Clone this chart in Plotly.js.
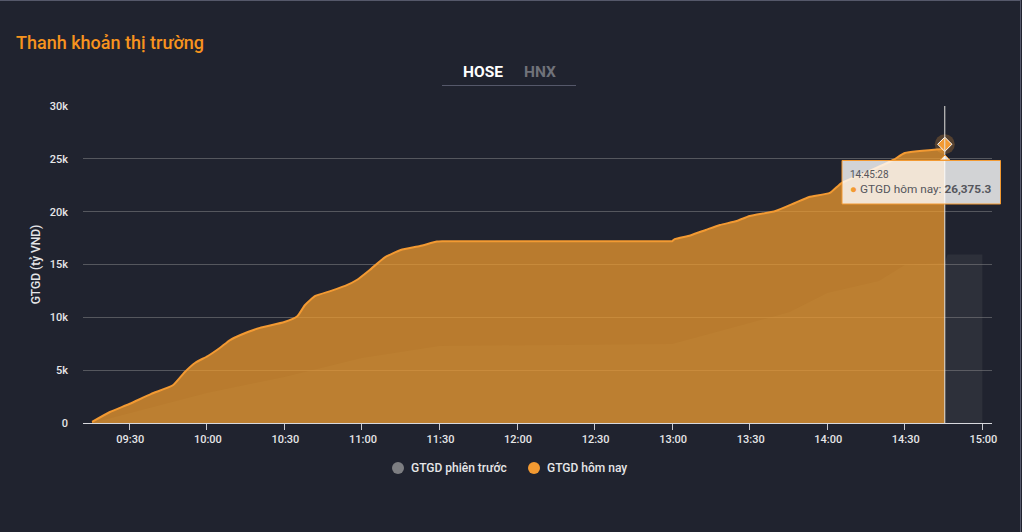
<!DOCTYPE html>
<html><head><meta charset="utf-8">
<script src="https://cdn.plot.ly/plotly-3.0.1.min.js"></script>
<style>
html,body{margin:0;padding:0;background:#20232f;overflow:hidden}
#frame{position:absolute;left:0;top:0;width:1021px;height:532px;border-top:1px solid #55586a;border-right:1px solid #55586a;box-sizing:border-box}
#chart{position:absolute;left:0;top:0;width:1022px;height:532px}
</style></head><body>
<div id="chart"></div><div id="frame"></div>
<script>
const DAY = '2024-01-01 ';
const todayTimes = ['09:15:36','09:22:30','09:30:00','09:38:30','09:47:00','09:51:30','09:55:24','10:00:24','10:05:00','10:09:00','10:13:00','10:20:30','10:30:00','10:35:00','10:38:00','10:42:00','10:48:00','10:53:30','10:58:00','11:03:00','11:09:00','11:15:00','11:22:30','11:29:00','11:31:00','11:33:00','12:58:00','12:59:30','13:00:00','13:01:00','13:07:00','13:13:00','13:18:30','13:25:00','13:30:00','13:40:00','13:47:30','13:53:00','14:01:00','14:05:30','14:15:00','14:25:30','14:30:00','14:45:28'];
const todayValues = [100,1040,1800,2750,3600,4830,5680,6340,7100,7850,8330,9000,9560,10100,11170,12020,12500,12970,13530,14480,15700,16370,16750,17170,17200,17200,17200,17200,17200,17400,17750,18270,18740,19120,19590,20060,20820,21390,21770,22710,23700,24890,25550,25930];
const prevTimes = ['09:15:36','10:00:00','10:30:00','11:00:00','11:30:00','13:00:00','13:30:00','13:45:30','14:00:00','14:20:00','14:30:00','14:45:28','14:46:30','15:00:00'];
const prevValues = [0,2840,4350,6150,7290,7480,9460,10500,12300,13440,14950,15140,15950,15950];
const selTime = '14:45:28';
const selValue = 26375.3;
const yTicks = [0,5000,10000,15000,20000,25000,30000];
const yLabels = ['0','5k','10k','15k','20k','25k','30k'];
const xTickTimes = ['09:30','10:00','10:30','11:00','11:30','12:00','12:30','13:00','13:30','14:00','14:30','15:00'];
const seriesNames = ['GTGD phiên trước','GTGD hôm nay'];

const stamp = t => DAY + (t.length===5 ? t+':00' : t);
const W=1022,H=532,L=83,R=992,T=106,B=423;
const px = x => (x-L)/(R-L);
const py = y => (B-y)/(B-T);
const ORANGE='#f39a32';
const GRAYDOT='#7d7e82';
const traces = [
 {x:prevTimes.map(stamp),y:prevValues,name:seriesNames[0],mode:'lines',line:{width:0,color:'rgba(0,0,0,0)'},fill:'tozeroy',fillcolor:'rgba(128,128,128,0.14)',showlegend:false},
 {x:todayTimes.map(stamp),y:todayValues,name:seriesNames[1],mode:'lines',line:{width:2,color:ORANGE,shape:'spline',smoothing:0.5},fill:'tozeroy',fillcolor:'rgba(244,158,46,0.72)',showlegend:false},
 {x:[stamp(selTime)],y:[selValue],mode:'markers',marker:{symbol:'circle',size:20,color:'rgba(243,154,50,0.25)'},showlegend:false},
 {x:[stamp(selTime)],y:[selValue],mode:'markers',marker:{symbol:'diamond',size:11,color:ORANGE,line:{color:'#ffffff',width:1}},showlegend:false}
];
const font='Roboto, sans-serif';
const circle=(cx,cy,r,c)=>({type:'circle',xref:'paper',yref:'paper',x0:px(cx-r),x1:px(cx+r),y0:py(cy+r),y1:py(cy-r),fillcolor:c,line:{width:0},layer:'above'});
const note=(x,y,anchor,text,size,weight,color)=>({xref:'paper',yref:'paper',x:px(x),y:py(y),xanchor:anchor,yanchor:'middle',showarrow:false,text,borderpad:0,font:{family:font,size,weight,color}});
const layout = {
 width:W,height:H,paper_bgcolor:'#20232f',plot_bgcolor:'#20232f',
 margin:{l:L,r:W-R,t:T,b:H-B,pad:0},
 font:{family:font,color:'#e6e6e8',size:11},
 title:{text:'Thanh khoản thị trường',x:16/W,xanchor:'left',y:1-43/H,yanchor:'middle',font:{family:font,size:18,weight:500,color:'#f7931e'}},
 xaxis:{type:'date',range:[stamp('09:12:06'),stamp('15:03:44')],tickmode:'array',tickvals:xTickTimes.map(stamp),ticktext:xTickTimes,ticks:'outside',ticklen:6,tickwidth:1,tickcolor:'#c9cad0',showgrid:false,showline:true,linecolor:'#d8d9de',linewidth:1,zeroline:false,ticklabelshift:1,tickfont:{family:font,size:11,weight:500,color:'#e6e6e8'}},
 yaxis:{range:[0,30000],tickmode:'array',tickvals:yTicks,ticktext:yLabels,ticks:'',showgrid:true,gridcolor:'#55575e',gridwidth:1,zeroline:false,showline:false,tickfont:{family:font,size:11,weight:500,color:'#e6e6e8'},ticklabelstandoff:14,title:{text:'GTGD (tỷ VND)',standoff:6,font:{family:font,size:12,weight:500,color:'#e6e6e8'}}},
 showlegend:false,
 hovermode:false,
 shapes:[
  {type:'line',xref:'paper',yref:'paper',x0:px(442),x1:px(576),y0:py(85.5),y1:py(85.5),line:{color:'#55586a',width:1}},
  {type:'line',xref:'x',yref:'y',x0:stamp(selTime),x1:stamp(selTime),y0:0,y1:30000,line:{color:'#e6e3df',width:1},layer:'above'},
  {type:'path',xref:'paper',yref:'paper',path:`M ${px(940)} ${py(160)} L ${px(945)} ${py(155)} L ${px(950)} ${py(160)} Z`,fillcolor:'rgba(255,255,255,0.8)',line:{color:ORANGE,width:1},layer:'above'},
  {type:'rect',xref:'paper',yref:'paper',x0:px(842),x1:px(1000.5),y0:py(160.5),y1:py(204),fillcolor:'rgba(255,255,255,0.8)',line:{color:ORANGE,width:1},layer:'above'},
  circle(398,468,6,GRAYDOT),
  circle(534,468,6,ORANGE)
 ],
 annotations:[
  note(503.5,72,'right','HOSE',15.5,700,'#ffffff'),
  note(522.5,72,'left','HNX',15.5,700,'#70727a'),
  note(848.5,174.5,'left','14:45:28',10,400,'#55565c'),
  note(849,189,'left',`<span style="color:${ORANGE}">●</span> GTGD hôm nay: <b>26,375.3</b>`,11.8,400,'#55565c'),
  note(410,468,'left',seriesNames[0],12,500,'#e6e6e8'),
  note(546,468,'left',seriesNames[1],12,500,'#e6e6e8')
 ]
};
Plotly.newPlot('chart',traces,layout,{displayModeBar:false,staticPlot:true});
</script></body></html>
